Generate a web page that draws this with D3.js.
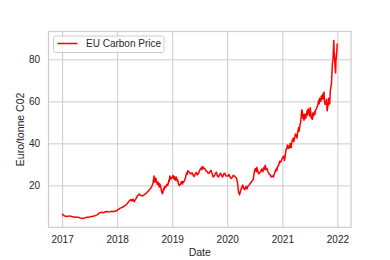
<!DOCTYPE html>
<html>
<head>
<meta charset="utf-8">
<script src="https://cdn.jsdelivr.net/npm/d3@7"></script>
<style>
  body { margin: 0; background: #fff; }
  svg text { font-family: "Liberation Sans", Arial, sans-serif; fill: #262626; }
</style>
</head>
<body>
<div class="chart"></div>
<script>
let FRAME_WIDTH = 390;
let FRAME_HEIGHT = 260;
let MARGINS = {left: 48.5, right: 39, top: 31.5, bottom: 32.7};

// EU carbon price (euro / tonne)
let DATES = [
  "2017-01-02","2017-01-09","2017-01-23","2017-02-06","2017-02-20","2017-03-06","2017-03-20","2017-04-03",
  "2017-04-17","2017-05-01","2017-05-15","2017-05-29","2017-06-12","2017-06-26","2017-07-10","2017-07-24",
  "2017-08-07","2017-08-21","2017-09-04","2017-09-18","2017-10-02","2017-10-16","2017-10-30","2017-11-13",
  "2017-11-27","2017-12-11","2017-12-27",
  "2018-01-08","2018-01-22","2018-02-05","2018-02-19","2018-03-05","2018-03-12","2018-03-19","2018-04-02",
  "2018-04-09","2018-04-16","2018-04-23","2018-05-07","2018-05-14","2018-05-28","2018-06-04","2018-06-18",
  "2018-07-02","2018-07-16","2018-07-30","2018-08-13","2018-08-20","2018-08-27","2018-09-03","2018-09-10",
  "2018-09-17","2018-09-24","2018-10-01","2018-10-08","2018-10-15","2018-10-22","2018-10-29","2018-11-05",
  "2018-11-12","2018-11-19","2018-11-26","2018-12-03","2018-12-10","2018-12-17","2018-12-24",
  "2019-01-07","2019-01-14","2019-01-21","2019-01-28","2019-02-04","2019-02-11","2019-02-18","2019-02-25",
  "2019-03-04","2019-03-11","2019-03-18","2019-03-25","2019-04-01","2019-04-08","2019-04-15","2019-04-22",
  "2019-05-06","2019-05-20","2019-06-03","2019-06-17","2019-07-01","2019-07-15","2019-07-22","2019-07-29",
  "2019-08-12","2019-08-26","2019-09-09","2019-09-23","2019-10-07","2019-10-14","2019-10-28","2019-11-11",
  "2019-11-25","2019-12-09","2019-12-23",
  "2020-01-06","2020-01-20","2020-02-03","2020-02-17","2020-03-02","2020-03-09","2020-03-16","2020-03-23",
  "2020-03-30","2020-04-06","2020-04-20","2020-05-04","2020-05-11","2020-05-25","2020-06-08","2020-06-22",
  "2020-06-29","2020-07-06","2020-07-13","2020-07-20","2020-07-27","2020-08-10","2020-08-24","2020-08-31",
  "2020-09-07","2020-09-14","2020-09-21","2020-09-28","2020-10-05","2020-10-12","2020-10-19","2020-10-26",
  "2020-11-02","2020-11-09","2020-11-16","2020-11-23","2020-12-07","2020-12-21",
  "2021-01-04","2021-01-11","2021-01-18","2021-01-25","2021-02-01","2021-02-08","2021-02-15","2021-02-22",
  "2021-03-01","2021-03-08","2021-03-15","2021-03-22","2021-03-29","2021-04-05","2021-04-12","2021-04-19",
  "2021-04-26","2021-05-03","2021-05-10","2021-05-14","2021-05-17","2021-05-24","2021-05-31","2021-06-07",
  "2021-06-14","2021-06-21","2021-06-28","2021-07-05","2021-07-12","2021-07-19","2021-07-26","2021-08-02",
  "2021-08-09","2021-08-16","2021-08-23","2021-08-30","2021-09-06","2021-09-13","2021-09-20","2021-09-27",
  "2021-10-04","2021-10-11","2021-10-18","2021-10-25","2021-11-01","2021-11-08","2021-11-15","2021-11-22",
  "2021-11-29","2021-12-03","2021-12-08","2021-12-10","2021-12-14","2021-12-17","2021-12-20","2021-12-22",
  "2021-12-28","2021-12-31"
];
let PRICES = [
  6.6,5.8,5.3,5.2,5.5,5.2,5.0,4.8,
  4.9,4.5,4.3,4.5,4.8,4.9,5.1,5.3,
  5.6,6.0,6.8,7.2,7.0,7.5,7.6,7.4,
  7.7,7.6,7.9,
  8.5,9.2,9.6,10.2,11.0,11.6,12.3,13.3,
  12.6,13.5,12.2,13.8,14.8,15.9,15.3,15.0,
  15.6,16.5,17.6,18.8,19.8,21.0,24.5,21.5,
  23.0,20.5,21.5,19.2,20.0,17.5,16.0,18.5,
  19.5,19.0,20.5,20.0,22.5,24.5,23.0,
  24.8,23.0,22.5,24.0,22.0,21.0,20.0,20.5,
  21.8,20.7,21.5,22.5,24.0,26.0,27.0,26.5,
  25.5,24.8,25.5,25.0,27.0,28.5,29.0,28.0,
  27.0,26.0,26.5,25.5,24.5,25.5,24.5,25.0,
  24.6,25.5,24.5,
  24.5,24.0,23.8,24.5,23.5,21.5,17.0,15.5,
  17.5,19.0,18.5,19.5,18.3,20.0,21.5,23.0,
  26.5,28.0,26.5,27.5,25.5,26.5,26.5,28.5,
  29.0,27.5,28.0,26.5,25.5,25.0,24.0,24.5,
  24.0,25.5,27.0,28.0,29.5,31.0,
  33.5,34.0,33.0,37.0,38.0,37.5,39.0,40.0,
  38.0,41.5,42.5,42.0,44.5,43.5,45.0,47.5,
  48.0,50.5,56.0,55.0,52.0,51.0,54.0,52.5,
  55.5,56.5,55.0,57.0,52.0,51.5,53.0,55.0,
  56.0,56.5,58.0,60.5,61.5,60.0,61.0,63.5,
  64.5,58.5,59.0,55.5,58.5,60.0,65.0,68.0,
  78.0,80.0,89.0,84.0,80.0,76.0,73.5,79.0,
  84.0,87.5
];
// mid-week readings where the line wiggles more
let EXTRA_DATES = [
  "2018-09-05","2018-09-12","2018-10-03","2018-10-10","2018-10-24","2018-11-07","2018-12-12","2018-12-19",
  "2019-01-09","2019-01-16","2019-02-06","2019-02-13","2019-03-06","2019-03-13","2019-04-03","2019-04-10",
  "2019-04-29","2019-05-13","2019-05-27","2019-06-10","2019-06-24","2019-07-08","2019-07-17","2019-08-05",
  "2019-08-19","2019-09-02","2019-09-16","2019-09-30","2019-10-21","2019-11-04","2019-11-18","2019-12-02",
  "2019-12-16",
  "2020-01-13","2020-01-27","2020-02-10","2020-02-24","2020-04-13","2020-04-27","2020-05-18","2020-06-01",
  "2020-06-15","2020-07-02","2020-07-16","2020-08-03","2020-08-17","2020-09-03","2020-09-10","2020-11-25",
  "2020-11-30","2020-12-14","2020-12-28",
  "2021-01-14","2021-02-03","2021-02-18","2021-03-03","2021-03-18","2021-04-08","2021-04-22","2021-05-05",
  "2021-05-20","2021-06-02","2021-06-17","2021-07-01","2021-07-08","2021-07-22","2021-08-05","2021-08-19",
  "2021-09-02","2021-09-16","2021-09-30","2021-10-07","2021-10-21","2021-10-28","2021-11-04","2021-11-11",
  "2021-11-18"
];
let EXTRA_PRICES = [
  22.0,23.5,20.5,20.8,16.8,17.8,21.8,23.8,
  23.8,24.2,22.8,20.3,21.0,21.9,25.0,25.3,
  25.8,26.0,24.2,26.2,25.6,27.8,27.5,28.2,
  26.8,25.7,27.2,24.0,26.3,24.0,25.8,24.0,
  25.8,
  25.2,23.3,24.8,24.0,20.2,18.0,19.8,20.8,
  22.2,27.2,28.6,26.0,27.8,27.6,29.6,27.0,
  29.0,31.5,32.3,
  31.8,39.2,37.8,39.8,40.8,42.5,45.8,52.0,
  53.8,51.8,53.5,53.0,55.0,54.5,53.8,57.5,
  58.8,62.5,61.2,60.5,61.0,57.2,61.5,58.8,
  66.5
];
let Y_TICKS = [20, 40, 60, 80];
let X_TICK_YEARS = [2017, 2018, 2019, 2020, 2021, 2022];
let SERIES_NAME = "EU Carbon Price";

let PLOT_WIDTH = FRAME_WIDTH - MARGINS.left - MARGINS.right;
let PLOT_HEIGHT = FRAME_HEIGHT - MARGINS.top - MARGINS.bottom;

let parseDate = d3.timeParse("%Y-%m-%d");
let data = DATES.map((d, i) => ({date: parseDate(d), price: PRICES[i]}))
               .concat(EXTRA_DATES.map((d, i) => ({date: parseDate(d), price: EXTRA_PRICES[i]})))
               .sort((a, b) => a.date - b.date);

let FRAME = d3.select(".chart")
              .append("svg")
              .attr("width", FRAME_WIDTH)
              .attr("height", FRAME_HEIGHT);

let PLOT = FRAME.append("g")
                .attr("transform", "translate(" + MARGINS.left + "," + MARGINS.top + ")");

// matplotlib style 5% margins on both axes
const X_EXT = d3.extent(data, d => d.date);
const X_PAD = (X_EXT[1] - X_EXT[0]) * 0.05;
const X_SCALE = d3.scaleTime()
                  .domain([new Date(+X_EXT[0] - X_PAD), new Date(+X_EXT[1] + X_PAD)])
                  .range([0, PLOT_WIDTH]);

const Y_EXT = d3.extent(data, d => d.price);
const Y_PAD = (Y_EXT[1] - Y_EXT[0]) * 0.05;
const Y_SCALE = d3.scaleLinear()
                  .domain([Y_EXT[0] - Y_PAD, Y_EXT[1] + Y_PAD])
                  .range([PLOT_HEIGHT, 0]);

let xTicks = X_TICK_YEARS.map(y => new Date(y, 0, 1));

// grid lines
PLOT.append("g")
    .attr("class", "grid")
    .attr("transform", "translate(0," + PLOT_HEIGHT + ")")
    .call(d3.axisBottom(X_SCALE).tickValues(xTicks).tickSize(-PLOT_HEIGHT).tickFormat(""));
PLOT.append("g")
    .attr("class", "grid")
    .call(d3.axisLeft(Y_SCALE).tickValues(Y_TICKS).tickSize(-PLOT_WIDTH).tickFormat(""));
PLOT.selectAll(".grid .domain").remove();
PLOT.selectAll(".grid line").attr("stroke", "#cccccc").attr("stroke-width", 1);

// frame
PLOT.append("rect")
    .attr("width", PLOT_WIDTH)
    .attr("height", PLOT_HEIGHT)
    .attr("fill", "none")
    .attr("stroke", "#cccccc")
    .attr("stroke-width", 1.2);

// tick labels
let xAxis = PLOT.append("g")
    .attr("transform", "translate(0," + PLOT_HEIGHT + ")")
    .call(d3.axisBottom(X_SCALE).tickValues(xTicks).tickSize(0).tickPadding(9)
            .tickFormat(d3.timeFormat("%Y")));
let yAxis = PLOT.append("g")
    .call(d3.axisLeft(Y_SCALE).tickValues(Y_TICKS).tickSize(0).tickPadding(8.5));
[xAxis, yAxis].forEach(a => {
    a.select(".domain").remove();
    a.selectAll("text").attr("font-size", "10px")
     .attr("font-family", "'Liberation Sans', Arial, sans-serif").attr("fill", "#262626");
});

// the price line
let line = d3.line()
             .x(d => X_SCALE(d.date))
             .y(d => Y_SCALE(d.price));
PLOT.append("path")
    .datum(data)
    .attr("d", line)
    .attr("fill", "none")
    .attr("stroke", "red")
    .attr("stroke-width", 1.5)
    .attr("stroke-linejoin", "round");

// axis titles
FRAME.append("text")
     .attr("x", MARGINS.left + PLOT_WIDTH / 2)
     .attr("y", 256)
     .attr("text-anchor", "middle")
     .attr("font-size", "10.5px")
     .text("Date");
FRAME.append("text")
     .attr("transform", "translate(24," + (MARGINS.top + PLOT_HEIGHT / 2) + ") rotate(-90)")
     .attr("text-anchor", "middle")
     .attr("font-size", "10.5px")
     .text("Euro/tonne C02");

// legend
let legend = FRAME.append("g").attr("transform", "translate(53.5,36)");
legend.append("rect")
      .attr("width", 110.5)
      .attr("height", 16.5)
      .attr("rx", 2)
      .attr("fill", "white")
      .attr("fill-opacity", 0.8)
      .attr("stroke", "#cccccc")
      .attr("stroke-width", 1);
legend.append("line")
      .attr("x1", 4).attr("x2", 24)
      .attr("y1", 7.5).attr("y2", 7.5)
      .attr("stroke", "red")
      .attr("stroke-width", 1.5);
legend.append("text")
      .attr("x", 32.5)
      .attr("y", 11.3)
      .attr("font-size", "10px")
      .text(SERIES_NAME);
</script>
</body>
</html>
